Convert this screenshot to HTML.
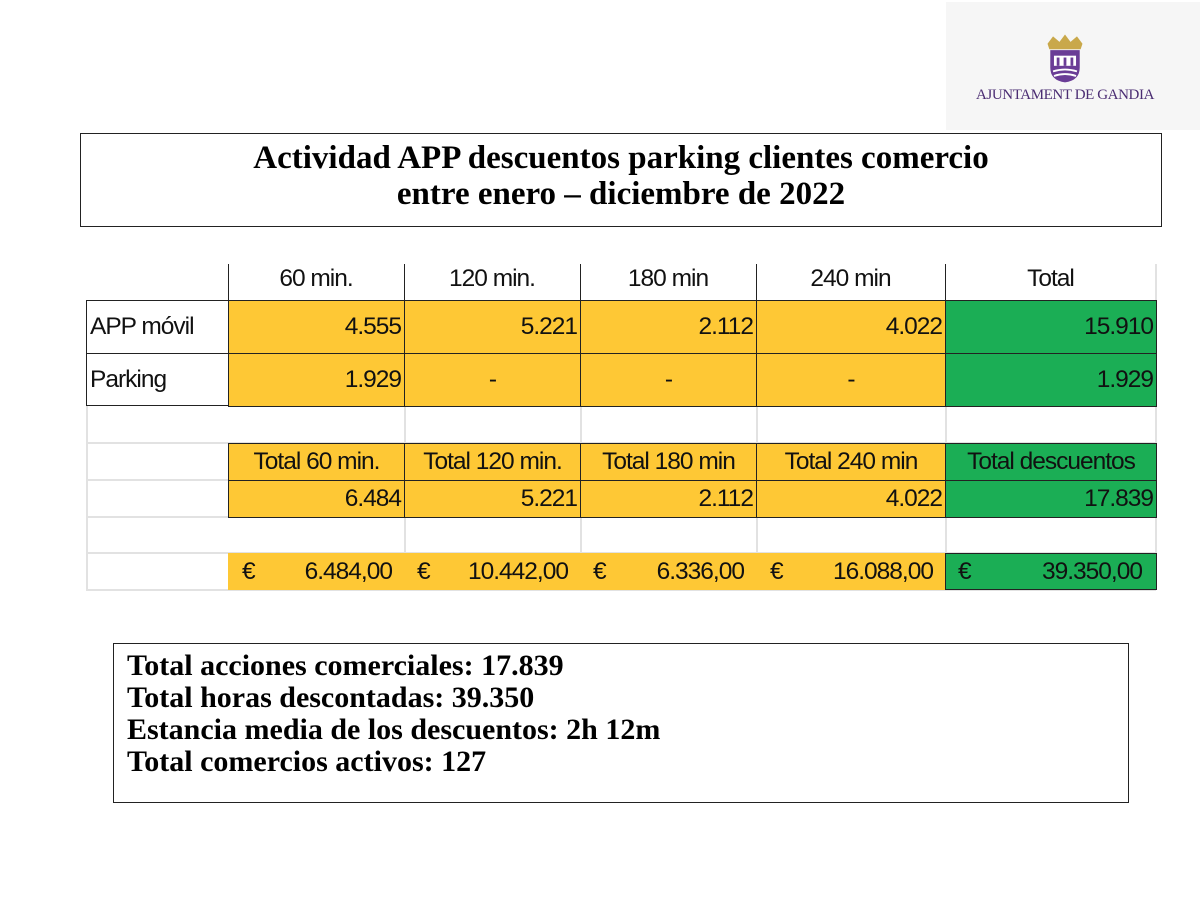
<!DOCTYPE html>
<html><head><meta charset="utf-8"><style>
body{margin:0;background:#fff;}
#p{position:relative;width:1200px;height:902px;overflow:hidden;background:#fff;font-family:"Liberation Sans",sans-serif;}
.c{position:absolute;box-sizing:border-box;font-size:24.5px;letter-spacing:-1px;color:#111;display:flex;align-items:center;padding:0 3px;white-space:nowrap;}
.y{background:#FEC835;}
.g{background:#1BAE55;}
.r{justify-content:flex-end;}
.m{justify-content:center;}
.l{justify-content:flex-start;}
.hl{position:absolute;background:#e2e2e2;}
.bl{position:absolute;background:#222;}
.serif{font-family:"Liberation Serif",serif;font-weight:bold;color:#000;}
</style></head><body><div id="p">
<div style="position:absolute;left:946px;top:2px;width:254px;height:128px;background:#f6f6f6;"></div>
<svg style="position:absolute;left:1042px;top:30px" width="46" height="56" viewBox="0 0 50 55">
<path d="M6 12 L12 4 L19 10 L25 2 L31 10 L38 4 L44 12 L42 18 L8 18Z" fill="#c9a84a"/>
<path d="M9 19 H41 V38 Q41 52 25 54 Q9 52 9 38Z" fill="#6a3d96"/>
<rect x="13" y="25" width="24" height="11" fill="#fff"/>
<rect x="16" y="27" width="3" height="9" fill="#6a3d96"/><rect x="23.5" y="27" width="3" height="9" fill="#6a3d96"/><rect x="31" y="27" width="3" height="9" fill="#6a3d96"/>
<path d="M12 42 Q25 38 38 42 M13 47 Q25 43 37 47" stroke="#fff" stroke-width="2" fill="none"/>
</svg>
<div style="position:absolute;left:976px;top:87px;font-family:'Liberation Serif',serif;font-size:15px;color:#4b2d73;letter-spacing:-0.4px;">AJUNTAMENT DE GANDIA</div>
<div style="position:absolute;left:80px;top:133px;width:1082px;height:94px;border:1.5px solid #222;box-sizing:border-box;"></div>
<div class="serif" style="position:absolute;left:0;top:140px;width:1242px;text-align:center;font-size:33px;line-height:36px;">Actividad APP descuentos parking clientes comercio<br>entre enero – diciembre de 2022</div>

<div class="hl" style="left:86px;top:442px;width:1070px;height:2px"></div>
<div class="hl" style="left:86px;top:479px;width:142px;height:2px"></div>
<div class="hl" style="left:86px;top:516px;width:1070px;height:2px"></div>
<div class="hl" style="left:86px;top:552px;width:1070px;height:2px"></div>
<div class="hl" style="left:86px;top:589px;width:1070px;height:2px"></div>
<div class="hl" style="left:86px;top:406px;width:2px;height:184px"></div>
<div class="hl" style="left:404px;top:406px;width:2px;height:37px"></div>
<div class="hl" style="left:580px;top:406px;width:2px;height:37px"></div>
<div class="hl" style="left:756px;top:406px;width:2px;height:37px"></div>
<div class="hl" style="left:945px;top:406px;width:2px;height:37px"></div>
<div class="hl" style="left:404px;top:517px;width:2px;height:37px"></div>
<div class="hl" style="left:580px;top:517px;width:2px;height:37px"></div>
<div class="hl" style="left:756px;top:517px;width:2px;height:37px"></div>
<div class="hl" style="left:945px;top:517px;width:2px;height:37px"></div>
<div class="hl" style="left:1155px;top:264px;width:2px;height:326px"></div>

<div class="c m" style="left:228px;top:260px;width:176px;height:38px">60 min.</div>
<div class="c m" style="left:404px;top:260px;width:176px;height:38px">120 min.</div>
<div class="c m" style="left:580px;top:260px;width:176px;height:38px">180 min</div>
<div class="c m" style="left:756px;top:260px;width:189px;height:38px">240 min</div>
<div class="c m" style="left:945px;top:260px;width:211px;height:38px">Total</div>
<div class="bl" style="left:228px;top:264px;width:1px;height:36px"></div>
<div class="bl" style="left:404px;top:264px;width:1px;height:36px"></div>
<div class="bl" style="left:580px;top:264px;width:1px;height:36px"></div>
<div class="bl" style="left:756px;top:264px;width:1px;height:36px"></div>
<div class="bl" style="left:945px;top:264px;width:1px;height:36px"></div>

<div class="c l" style="left:86px;top:300px;width:142px;height:53px;border:1px solid #222;border-right:none;border-bottom:none">APP móvil</div>
<div class="c l" style="left:86px;top:353px;width:142px;height:53px;border:1px solid #222;border-right:none">Parking</div>
<div class="c r y" style="left:228px;top:300px;width:177px;height:54px;border:1px solid #222">4.555</div>
<div class="c r y" style="left:404px;top:300px;width:177px;height:54px;border:1px solid #222">5.221</div>
<div class="c r y" style="left:580px;top:300px;width:177px;height:54px;border:1px solid #222">2.112</div>
<div class="c r y" style="left:756px;top:300px;width:190px;height:54px;border:1px solid #222">4.022</div>
<div class="c r g" style="left:945px;top:300px;width:212px;height:54px;border:1px solid #222">15.910</div>
<div class="c r y" style="left:228px;top:353px;width:177px;height:54px;border:1px solid #222">1.929</div>
<div class="c m y" style="left:404px;top:353px;width:177px;height:54px;border:1px solid #222">-</div>
<div class="c m y" style="left:580px;top:353px;width:177px;height:54px;border:1px solid #222">-</div>
<div class="c m y" style="left:756px;top:353px;width:190px;height:54px;border:1px solid #222">-</div>
<div class="c r g" style="left:945px;top:353px;width:212px;height:54px;border:1px solid #222">1.929</div>

<div class="c m y" style="left:228px;top:443px;width:177px;height:38px;border:1px solid #222">Total 60 min.</div>
<div class="c m y" style="left:404px;top:443px;width:177px;height:38px;border:1px solid #222">Total 120 min.</div>
<div class="c m y" style="left:580px;top:443px;width:177px;height:38px;border:1px solid #222">Total 180 min</div>
<div class="c m y" style="left:756px;top:443px;width:190px;height:38px;border:1px solid #222">Total 240 min</div>
<div class="c m g" style="left:945px;top:443px;width:212px;height:38px;border:1px solid #222">Total descuentos</div>
<div class="c r y" style="left:228px;top:480px;width:177px;height:38px;border:1px solid #222">6.484</div>
<div class="c r y" style="left:404px;top:480px;width:177px;height:38px;border:1px solid #222">5.221</div>
<div class="c r y" style="left:580px;top:480px;width:177px;height:38px;border:1px solid #222">2.112</div>
<div class="c r y" style="left:756px;top:480px;width:190px;height:38px;border:1px solid #222">4.022</div>
<div class="c r g" style="left:945px;top:480px;width:212px;height:38px;border:1px solid #222">17.839</div>

<div class="y" style="position:absolute;left:228px;top:553px;width:717px;height:37px"></div>
<div class="c" style="left:228px;top:553px;width:176px;height:37px;justify-content:space-between;padding:0 12px 0 14px"><span>€</span><span>6.484,00</span></div>
<div class="c" style="left:404px;top:553px;width:176px;height:37px;justify-content:space-between;padding:0 12px 0 13px"><span>€</span><span>10.442,00</span></div>
<div class="c" style="left:580px;top:553px;width:176px;height:37px;justify-content:space-between;padding:0 12px 0 13px"><span>€</span><span>6.336,00</span></div>
<div class="c" style="left:756px;top:553px;width:189px;height:37px;justify-content:space-between;padding:0 12px 0 14px"><span>€</span><span>16.088,00</span></div>
<div class="c g" style="left:945px;top:553px;width:212px;height:37px;border:1.5px solid #222;justify-content:space-between;padding:0 14px 0 12px"><span>€</span><span>39.350,00</span></div>

<div style="position:absolute;left:113px;top:643px;width:1016px;height:160px;border:1.5px solid #222;box-sizing:border-box;"></div>
<div class="serif" style="position:absolute;left:127px;top:650px;font-size:30px;line-height:32px;">Total acciones comerciales: 17.839<br>Total horas descontadas: 39.350<br>Estancia media de los descuentos: 2h 12m<br>Total comercios activos: 127</div>
</div></body></html>
